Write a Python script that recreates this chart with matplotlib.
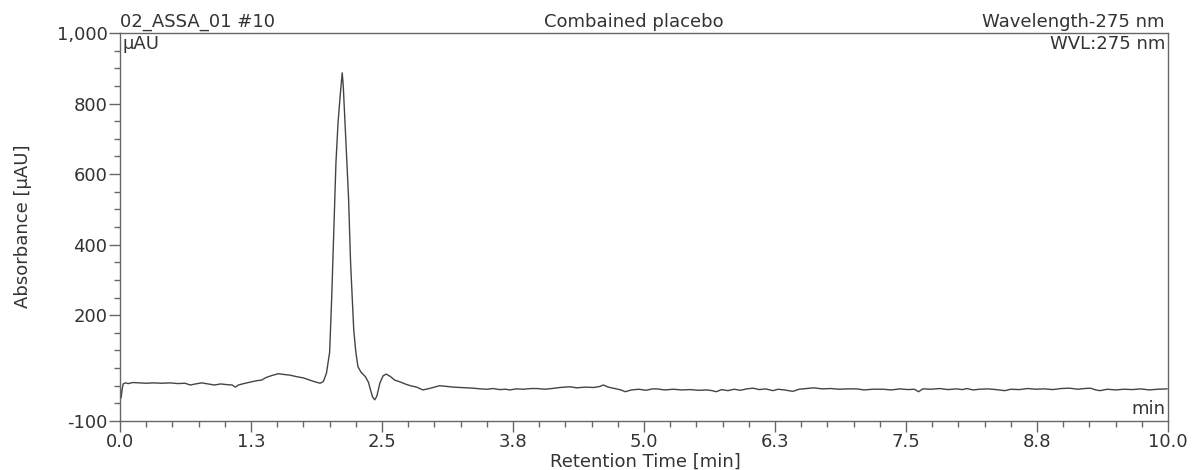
# Chromatogram of the combined placebo (recreated from the printed report).

import matplotlib
matplotlib.use("Agg")
import matplotlib.pyplot as plt
from matplotlib.ticker import FixedLocator, MultipleLocator, FuncFormatter

# Retention time (min) and absorbance (uAU)
tempo = [
    0.00, 0.01, 0.02, 0.03, 0.05, 0.08, 0.12, 0.18, 0.25, 0.32, 0.40, 0.48,
    0.55, 0.62, 0.67, 0.72, 0.78, 0.84, 0.90, 0.96, 1.02, 1.07, 1.10, 1.13,
    1.18, 1.24, 1.30, 1.35, 1.40, 1.45, 1.51, 1.56, 1.62, 1.68, 1.75, 1.81,
    1.86, 1.91, 1.94, 1.97, 2.00, 2.02, 2.04, 2.06, 2.08, 2.10, 2.12, 2.13,
    2.15, 2.18, 2.20, 2.23, 2.25, 2.27, 2.30, 2.34, 2.37, 2.39, 2.41, 2.43,
    2.45, 2.48, 2.51, 2.54, 2.58, 2.62, 2.67, 2.72, 2.77, 2.83, 2.89, 2.95,
    3.00, 3.05, 3.12, 3.18, 3.24, 3.30, 3.37, 3.44, 3.50, 3.56, 3.62, 3.68,
    3.72, 3.78, 3.85, 3.92, 3.98, 4.05, 4.12, 4.20, 4.29, 4.36, 4.44, 4.52,
    4.58, 4.61, 4.66, 4.72, 4.78, 4.82, 4.88, 4.95, 5.02, 5.08, 5.12, 5.20,
    5.28, 5.36, 5.44, 5.52, 5.60, 5.65, 5.69, 5.74, 5.80, 5.86, 5.92, 5.98,
    6.04, 6.10, 6.16, 6.23, 6.28, 6.34, 6.42, 6.48, 6.55, 6.62, 6.70, 6.78,
    6.86, 6.94, 7.03, 7.10, 7.18, 7.28, 7.36, 7.44, 7.52, 7.58, 7.62, 7.66,
    7.74, 7.82, 7.90, 7.98, 8.04, 8.08, 8.14, 8.20, 8.28, 8.36, 8.44, 8.50,
    8.58, 8.66, 8.74, 8.82, 8.90, 8.98, 9.06, 9.14, 9.20, 9.26, 9.31, 9.35,
    9.42, 9.50, 9.58, 9.66, 9.74, 9.82, 9.90, 9.99,
]
absorbancia = [
    2, -35, -10, 5, 8, 6, 9, 8, 7, 8, 7, 8,
    6, 7, 2, 5, 8, 5, 2, 5, 3, 2, -4, 2,
    6, 10, 14, 16, 24, 29, 34, 32, 30, 26, 22, 16,
    11, 7, 12, 36, 95, 252, 441, 631, 745, 820, 887, 850,
    725, 536, 348, 158, 95, 54, 38, 26, 10, -12, -32, -40,
    -30, 8, 28, 33, 26, 16, 11, 5, 0, -4, -12, -8,
    -4, 0, -2, -4, -5, -6, -7, -9, -10, -8, -11, -10,
    -12, -9, -10, -8, -8, -10, -8, -5, -3, -6, -4, -5,
    -2, 2, -4, -8, -12, -17, -12, -10, -13, -9, -9, -12,
    -10, -12, -11, -13, -12, -14, -17, -11, -14, -10, -13, -9,
    -7, -11, -9, -14, -10, -12, -16, -10, -8, -6, -9, -8,
    -10, -9, -9, -12, -10, -10, -12, -9, -11, -10, -17, -9,
    -10, -8, -11, -9, -11, -8, -12, -10, -9, -11, -14, -10,
    -11, -8, -10, -9, -11, -8, -7, -10, -8, -7, -12, -14,
    -10, -12, -10, -11, -9, -12, -10, -9,
]

# Axis ticks
ticks_x = [0.0, 1.25, 2.5, 3.75, 5.0, 6.25, 7.5, 8.75, 10.0]
rotulos_x = ["0.0", "1.3", "2.5", "3.8", "5.0", "6.3", "7.5", "8.8", "10.0"]
ticks_y = [-100, 200, 400, 600, 800, 1000]

COR_TEXTO = "#333333"
COR_EIXO = "#666666"
TAM = 13

plt.rcParams["font.family"] = ["DejaVu Sans"]

fig = plt.figure(figsize=(11.92, 4.70), dpi=100)
ax = fig.add_axes([0.1007, 0.1043, 0.8792, 0.8255])

ax.plot(tempo, absorbancia, color="#444444", linewidth=1.0)

ax.set_xlim(0, 10)
ax.set_ylim(-100, 1000)

ax.xaxis.set_major_locator(FixedLocator(ticks_x))
ax.set_xticklabels(rotulos_x)
ax.xaxis.set_minor_locator(MultipleLocator(0.25))
ax.yaxis.set_major_locator(FixedLocator(ticks_y))
ax.yaxis.set_minor_locator(MultipleLocator(50))
ax.yaxis.set_major_formatter(FuncFormatter(lambda v, p: f"{v:,.0f}"))

ax.tick_params(axis="both", which="major", direction="out", length=8,
               width=1, color=COR_EIXO, labelcolor=COR_TEXTO, labelsize=TAM)
ax.tick_params(axis="both", which="minor", direction="out", length=4,
               width=1, color=COR_EIXO)
ax.tick_params(axis="y", which="major", pad=1)
ax.tick_params(axis="x", which="major", pad=1)

for lado in ax.spines.values():
    lado.set_color(COR_EIXO)
    lado.set_linewidth(1.0)

# Axis titles placed by hand, the report squeezes them to the edge
fig.text(0.5415, 0.017, "Retention Time [min]", ha="center", va="center",
         fontsize=TAM, color=COR_TEXTO)
fig.text(0.019, 0.518, "Absorbance [\u03bcAU]", ha="center", va="center",
         rotation=90, fontsize=TAM, color=COR_TEXTO)

# Report header above the plot
ax.text(0.0, 1.005, "02_ASSA_01 #10", transform=ax.transAxes, ha="left",
        va="bottom", fontsize=TAM, color=COR_TEXTO)
ax.text(0.49, 1.005, "Combained placebo", transform=ax.transAxes, ha="center",
        va="bottom", fontsize=TAM, color=COR_TEXTO)
ax.text(0.997, 1.005, "Wavelength-275 nm", transform=ax.transAxes, ha="right",
        va="bottom", fontsize=TAM, color=COR_TEXTO)

# Labels inside the frame
ax.text(0.002, 0.995, "\u03bcAU", transform=ax.transAxes, ha="left",
        va="top", fontsize=TAM, color=COR_TEXTO)
ax.text(0.997, 0.995, "WVL:275 nm", transform=ax.transAxes, ha="right",
        va="top", fontsize=TAM, color=COR_TEXTO)
ax.text(0.997, 0.008, "min", transform=ax.transAxes, ha="right",
        va="bottom", fontsize=TAM, color=COR_TEXTO)

fig.savefig("out.png", dpi=100)
plt.close(fig)
